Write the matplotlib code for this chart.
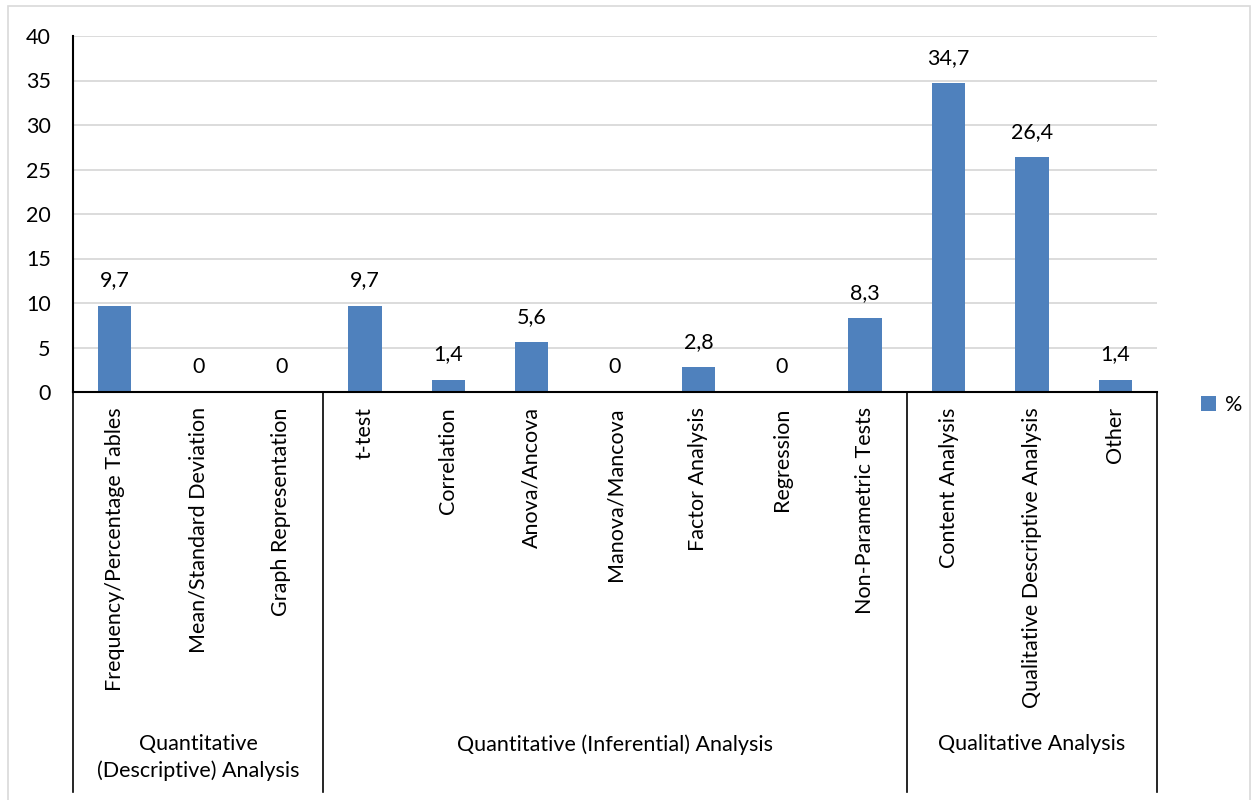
import matplotlib
import numpy as np
import matplotlib.pyplot as plt
from matplotlib.patches import Rectangle
from matplotlib.transforms import blended_transform_factory

matplotlib.use('Agg')

plt.rcParams['font.family'] = ['Lato', 'DejaVu Sans']

categories = ['Frequency/Percentage Tables', 'Mean/Standard Deviation', 'Graph Representation',
              't-test', 'Correlation', 'Anova/Ancova', 'Manova/Mancova', 'Factor Analysis',
              'Regression', 'Non-Parametric Tests',
              'Content Analysis', 'Qualitative Descriptive Analysis', 'Other']
percent = [9.7, 0, 0, 9.7, 1.4, 5.6, 0, 2.8, 0, 8.3, 34.7, 26.4, 1.4]
groups = ['Quantitative\n(Descriptive) Analysis', 'Quantitative (Inferential) Analysis',
          'Qualitative Analysis']
group_sizes = [3, 7, 3]

BLUE = '#4F81BD'
GRID = '#D9D9D9'
W, H = 1255, 800
FS = 15.5

fig = plt.figure(figsize=(W / 100, H / 100), dpi=100)
# light frame round the whole chart area
fig.patches.append(Rectangle((8 / W, -0.1), (1250 - 8) / W, 1.1 - 6 / H,
                             transform=fig.transFigure, fill=False,
                             edgecolor=GRID, linewidth=1.2))

ax = fig.add_axes([73 / W, 1 - 392 / H, (1157 - 73) / W, (392 - 36) / H])
x = np.arange(len(categories))
bars = ax.bar(x, percent, width=0.4, color=BLUE, label='%', zorder=2)

ax.set_xlim(-0.5, len(categories) - 0.5)
ax.set_ylim(0, 40)
ax.set_yticks(np.arange(0, 41, 5))
ax.yaxis.grid(True, color=GRID, linewidth=1.3, zorder=0)
ax.tick_params(axis='y', length=0, pad=16, labelsize=FS)
ax.tick_params(axis='x', length=0, pad=11, labelsize=FS)
ax.set_xticks(x)
ax.set_xticklabels(categories, rotation=90, va='top', ha='center')
for side in ['top', 'right']:
    ax.spines[side].set_visible(False)
ax.spines['left'].set_linewidth(1.5)
ax.spines['bottom'].set_linewidth(1.5)

# value labels, decimal comma
for xi, v in zip(x, percent):
    ax.annotate(f'{v:g}'.replace('.', ','), (xi, v), xytext=(0, 11),
                textcoords='offset points', ha='center', va='bottom', fontsize=FS)

# group separators and group names under the category labels
trans = blended_transform_factory(ax.transData, ax.transAxes)
bottom = (392 - 792) / (392 - 36)
edges = np.concatenate([[0], np.cumsum(group_sizes)]) - 0.5
for e in edges:
    ax.plot([e, e], [0, bottom], color='black', linewidth=1.2, transform=trans, clip_on=False)
for name, lo, hi in zip(groups, edges[:-1], edges[1:]):
    ax.text((lo + hi) / 2, (392 - 734) / (392 - 36), name, transform=trans,
            ha='center', va='top', fontsize=FS, linespacing=1.4)

ax.legend(handles=[bars], loc='center left', bbox_to_anchor=(1182 / W, 1 - 405 / H),
          bbox_transform=fig.transFigure, frameon=False, fontsize=FS,
          handlelength=0.7, handleheight=0.7, handletextpad=0.4)

fig.savefig('out.png', dpi=100, facecolor='white')
